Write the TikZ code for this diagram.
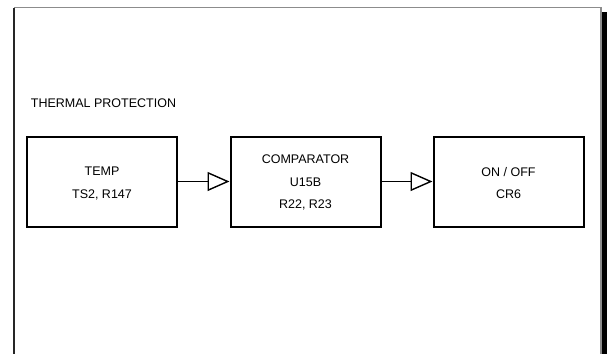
\documentclass[tikz,border=0pt]{standalone}
\usepackage{fontspec}
\setmainfont{Liberation Sans}
\usetikzlibrary{arrows.meta}
\begin{document}
\begin{tikzpicture}[x=1pt,y=-1pt,
  blk/.style={draw=black, line width=2pt, fill=white, minimum width=150pt, minimum height=90pt, inner sep=0pt},
  lbl/.style={anchor=base, inner sep=0pt, font=\fontsize{12.5}{14}\selectfont},
  conn/.style={line width=1.4pt, -{Triangle[open, length=22pt, width=19pt, line width=1.4pt]}},
  frm/.style={line width=1.2pt}]
\useasboundingbox (0,0) rectangle (607,354);
% frame
\fill[black] (601.5,12) rectangle (607,354);
\draw[frm, draw=gray!90] (14,7.5) -- (601,7.5) -- (601,354);
\draw[frm, draw=black!85] (14,7.5) -- (14,354);
% title
\node[lbl, anchor=base west] (title) at (30.7,107.3) {THERMAL PROTECTION};
% blocks
\node[blk] (temp) at (102,181.5) {};
\node[blk] (comp) at (305.5,181.5) {};
\node[blk] (onoff) at (508.5,181.5) {};
% texts
\node[lbl] (t1) at (102,175.7) {TEMP};
\node[lbl] (t2) at (102,198.7) {TS2, R147};
\node[lbl] (c1) at (305.5,163.3) {COMPARATOR};
\node[lbl] (c2) at (305.5,186.2) {U15B};
\node[lbl] (c3) at (305.5,208.5) {R22, R23};
\node[lbl] (o1) at (508.5,176) {ON / OFF};
\node[lbl] (o2) at (508.5,198.7) {CR6};
% connectors
\draw[conn] (temp.east) -- (comp.west);
\draw[conn] (comp.east) -- (onoff.west);
\end{tikzpicture}
\end{document}
